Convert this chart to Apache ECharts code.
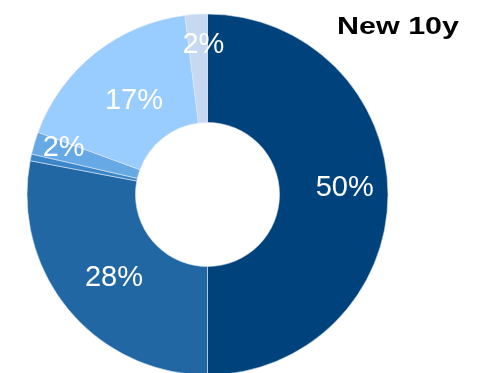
<!DOCTYPE html>
<html>
<head>
<meta charset="utf-8">
<script src="https://cdn.jsdelivr.net/npm/echarts@6/dist/echarts.min.js"></script>
<style>
  html, body { margin: 0; padding: 0; background: #fff; }
  #chart { width: 486px; height: 373px; }
</style>
</head>
<body>
<div id="chart"></div>
<script>
const categories = ['A', 'B', 'C', 'D', 'E', 'F'];
const values = [50, 28, 0.6, 2, 17.4, 2];
const labels = ['50%', '28%', '', '2%', '17%', '2%'];
const colors = ['#00427b', '#2067a4', '#3b86c8', '#66a9e4', '#99ccff', '#c6d9f1'];
// nudges so labels sit where the original put them
const labelShift = [[8, -7], [6, 1], [0, 0], [-20, -10], [7, 8], [4, -21]];

const chart = echarts.init(document.getElementById('chart'));

chart.setOption({
    animation: false,
    graphic: [{
        type: 'text',
        x: 337,
        y: 15,
        scaleX: 1.27,
        style: {
            x: 0,
            y: 0,
            text: 'New 10y',
            font: 'bold 24px "Liberation Sans"',
            fill: '#000',
            textVerticalAlign: 'top'
        }
    }],
    series: [{
        type: 'pie',
        center: [207.5, 194.5],
        radius: [72, 180.5],
        startAngle: 90,
        clockwise: true,
        avoidLabelOverlap: false,
        itemStyle: { borderColor: '#dfe8f3', borderWidth: 0.6 },
        label: {
            show: true,
            position: 'inside',
            color: '#fff',
            fontFamily: 'Liberation Sans',
            fontSize: 29,
            formatter: p => labels[p.dataIndex]
        },
        labelLine: { show: false },
        labelLayout: p => ({ dx: labelShift[p.dataIndex][0], dy: labelShift[p.dataIndex][1] }),
        data: categories.map((c, i) => ({
            name: c,
            value: values[i],
            itemStyle: { color: colors[i] }
        }))
    }]
});
</script>
</body>
</html>
